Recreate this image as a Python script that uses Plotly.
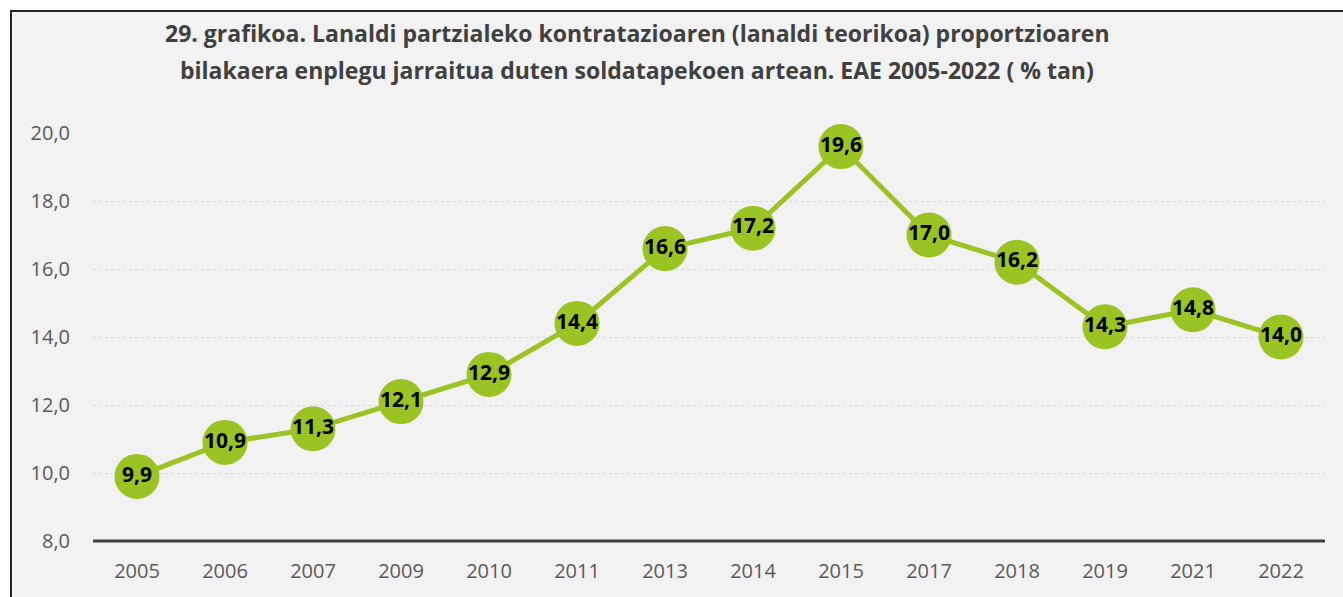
import plotly.graph_objects as go

years = ["2005", "2006", "2007", "2009", "2010", "2011", "2013", "2014", "2015", "2017", "2018", "2019", "2021", "2022"]
values = [9.9, 10.9, 11.3, 12.1, 12.9, 14.4, 16.6, 17.2, 19.6, 17.0, 16.2, 14.3, 14.8, 14.0]
y_ticks = [8, 10, 12, 14, 16, 18, 20]
y_tick_labels = ["8,0", "10,0", "12,0", "14,0", "16,0", "18,0", "20,0"]
title_lines = [
    "29. grafikoa. Lanaldi partzialeko kontratazioaren (lanaldi teorikoa) proportzioaren",
    "bilakaera enplegu jarraitua duten soldatapekoen artean. EAE 2005-2022 ( % tan)",
]

green = "#9AC424"
W, H = 1343, 597
L, R, T, B = 93, 18, 133, 56
pw, ph = W - L - R, H - T - B

def py(screen_y):
    return (H - B - screen_y) / ph

def px(screen_x):
    return (screen_x - L) / pw

fig = go.Figure()
fig.add_trace(go.Scatter(
    x=years, y=values, mode="lines+markers+text",
    line=dict(color=green, width=5),
    marker=dict(size=45, color=green),
    text=[f"{v:.1f}".replace(".", ",") for v in values],
    textposition="middle center",
    textfont=dict(family="Open Sans", size=21, color="#000000", weight="bold"),
    cliponaxis=False, hoverinfo="skip",
))

fig.add_shape(type="rect", xref="paper", yref="paper",
              x0=px(11), x1=px(W + 10),
              y0=py(H + 10), y1=py(11),
              line=dict(color="#262626", width=2), fillcolor="#F2F2F2", layer="below")

for line, sy in zip(title_lines, [33, 70]):
    fig.add_annotation(xref="paper", yref="paper", x=px(637), y=py(sy),
                       text=line, showarrow=False, align="center",
                       yanchor="middle", xanchor="center",
                       font=dict(family="Open Sans", size=23, color="#404040", weight="bold"))

fig.update_layout(
    width=W, height=H,
    margin=dict(l=L, r=R, t=T, b=B, autoexpand=False),
    paper_bgcolor="white", plot_bgcolor="rgba(0,0,0,0)",
    showlegend=False,
    xaxis=dict(type="category", range=[-0.5, 13.5], showgrid=False, zeroline=False,
               showline=False, ticks="", ticklabelstandoff=16,
               tickfont=dict(family="Open Sans", size=20, color="#595959")),
    yaxis=dict(range=[8, 20], tickvals=y_ticks, ticktext=y_tick_labels,
               showgrid=True, gridcolor="#D9D9D9", griddash="dot", gridwidth=1,
               zeroline=False, showline=False, ticks="", ticklabelstandoff=22,
               tickfont=dict(family="Open Sans", size=20, color="#595959")),
)
fig.add_shape(type="line", xref="paper", yref="paper", x0=0, x1=1, y0=0, y1=0,
              line=dict(color="#404040", width=3))

fig.write_html("out.html", config={"displayModeBar": False, "staticPlot": True},
               post_script="document.body.style.margin='0';document.body.style.overflow='hidden';")
